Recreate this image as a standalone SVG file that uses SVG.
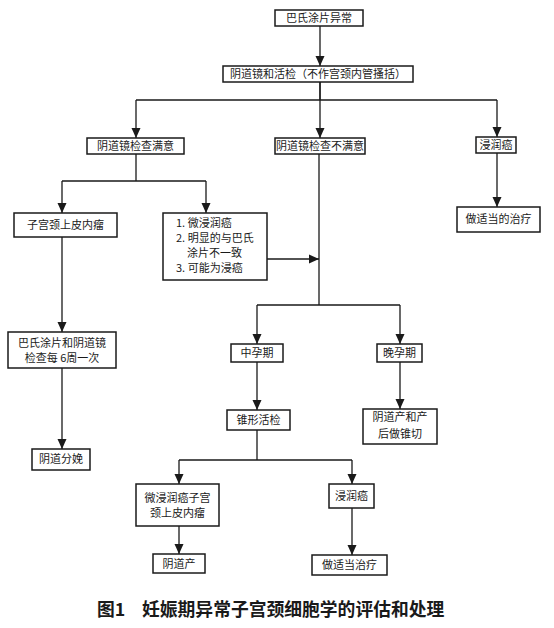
<svg xmlns="http://www.w3.org/2000/svg" width="554" height="628" viewBox="0 0 554 628">
<style>
.b{fill:#fff;stroke:#1a1a1a;stroke-width:1.5}
.t{font-family:"Noto Sans CJK SC","Noto Sans CJK JP",sans-serif;font-size:11px;fill:#1a1a1a;text-anchor:middle}
.l{text-anchor:start}
.c{fill:none;stroke:#1a1a1a;stroke-width:1.3}
.a{marker-end:url(#ah)}
.cap{font-family:"Noto Sans CJK SC","Noto Sans CJK JP",serif;font-size:17.8px;font-weight:bold;fill:#1a1a1a}
</style>
<defs>
<marker id="ah" markerUnits="userSpaceOnUse" markerWidth="10" markerHeight="10" viewBox="0 0 10 10" refX="10" refY="5" orient="auto">
<path d="M0,0.5 L10,5 L0,9.5 Z" fill="#1a1a1a"/>
</marker>
</defs>
<rect width="554" height="628" fill="#fff"/>
<g id="connectors">
<path class="c a" d="M320,26 V66"/>
<path class="c" d="M320,82 V100 M136,100 H497"/>
<path class="c a" d="M136,100 V138"/>
<path class="c a" d="M320,82 V138"/>
<path class="c a" d="M497,100 V137"/>
<path class="c a" d="M497,153 V207"/>
<path class="c" d="M136,154 V181 M62,181 H206"/>
<path class="c a" d="M62,181 V213"/>
<path class="c a" d="M206,181 V213"/>
<path class="c a" d="M267,259 H319"/>
<path class="c" d="M319,154 V305 M257,305 H400"/>
<path class="c a" d="M257,305 V344"/>
<path class="c a" d="M400,305 V344"/>
<path class="c a" d="M257,362 V410"/>
<path class="c a" d="M400,362 V409"/>
<path class="c a" d="M62,237 V332"/>
<path class="c a" d="M62,368 V449"/>
<path class="c" d="M257,430 V460 M179,460 H352"/>
<path class="c a" d="M179,460 V484"/>
<path class="c a" d="M352,460 V484"/>
<path class="c a" d="M179,526 V554"/>
<path class="c a" d="M352,508 V555"/>
</g>
<g id="n1"><rect class="b" x="275" y="10" width="88" height="16"/><text class="t" x="319" y="22">巴氏涂片异常</text></g>
<g id="n2"><rect class="b" x="223" y="66" width="190" height="16"/><text class="t" x="318" y="78">阴道镜和活检（不作宫颈内管搔括）</text></g>
<g id="n3"><rect class="b" x="87" y="138" width="97" height="16"/><text class="t" x="135.5" y="150">阴道镜检查满意</text></g>
<g id="n4"><rect class="b" x="275" y="138" width="90" height="16"/><text class="t" x="320" y="150">阴道镜检查不满意</text></g>
<g id="n5"><rect class="b" x="476" y="137" width="40" height="16"/><text class="t" x="496" y="149">浸润癌</text></g>
<g id="n6"><rect class="b" x="457" y="207" width="83" height="25"/><text class="t" x="498.5" y="223">做适当的治疗</text></g>
<g id="n7"><rect class="b" x="14" y="213" width="103" height="24"/><text class="t" x="65.5" y="229">子宫颈上皮内瘤</text></g>
<g id="n8"><rect class="b" x="163" y="213" width="104" height="67"/>
<text class="t l" x="176" y="227">1. 微浸润癌</text>
<text class="t l" x="176" y="242">2. 明显的与巴氏</text>
<text class="t l" x="187" y="257">涂片不一致</text>
<text class="t l" x="176" y="272">3. 可能为浸癌</text></g>
<g id="n9"><rect class="b" x="231" y="344" width="52" height="18"/><text class="t" x="257" y="357">中孕期</text></g>
<g id="n10"><rect class="b" x="377" y="344" width="45" height="18"/><text class="t" x="399.5" y="357">晚孕期</text></g>
<g id="n11"><rect class="b" x="227" y="410" width="63" height="20"/><text class="t" x="258.5" y="424">锥形活检</text></g>
<g id="n12"><rect class="b" x="363" y="409" width="74" height="35"/><text class="t" x="400" y="421">阴道产和产</text><text class="t" x="400" y="438">后做锥切</text></g>
<g id="n13"><rect class="b" x="8" y="332" width="108" height="36"/><text class="t" x="62" y="347">巴氏涂片和阴道镜</text><text class="t" x="62" y="362">检查每 6周一次</text></g>
<g id="n14"><rect class="b" x="32" y="449" width="58" height="21"/><text class="t" x="61" y="463">阴道分娩</text></g>
<g id="n15"><rect class="b" x="136" y="484" width="83" height="42"/><text class="t" x="177.5" y="502">微浸润癌子宫</text><text class="t" x="177.5" y="517">颈上皮内瘤</text></g>
<g id="n16"><rect class="b" x="329" y="484" width="45" height="24"/><text class="t" x="351.5" y="500">浸润癌</text></g>
<g id="n17"><rect class="b" x="153" y="554" width="52" height="19"/><text class="t" x="179" y="568">阴道产</text></g>
<g id="n18"><rect class="b" x="312" y="555" width="75" height="20"/><text class="t" x="349.5" y="569">做适当治疗</text></g>
<text class="cap" x="97" y="616">图1</text>
<text class="cap" x="142" y="616">妊娠期异常子宫颈细胞学的评估和处理</text>
</svg>
